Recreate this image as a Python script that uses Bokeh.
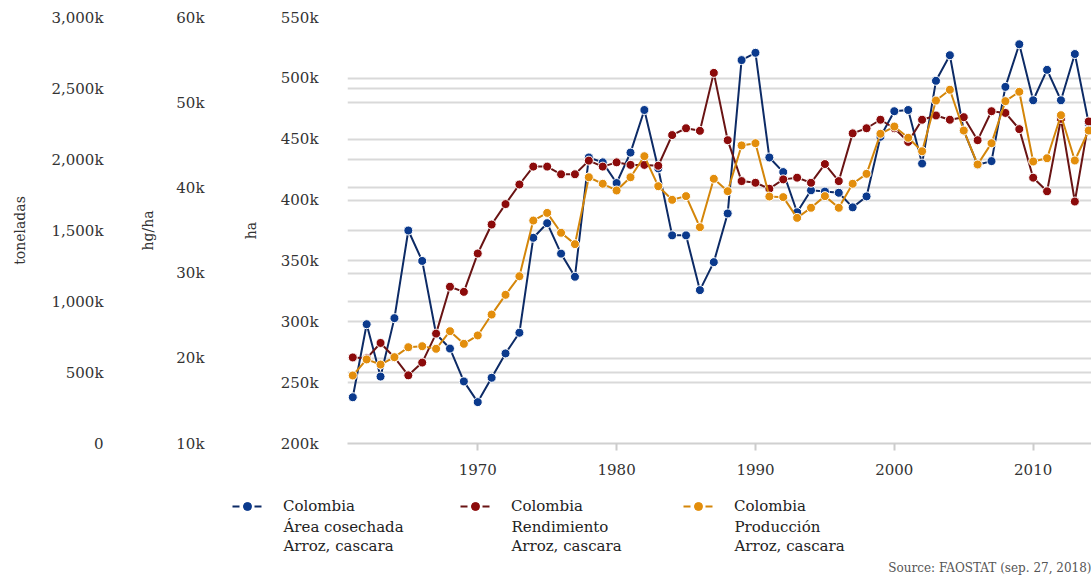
import numpy as np
from bokeh.plotting import figure
from bokeh.layouts import column
from bokeh.models import (Range1d, LinearAxis, FixedTicker, CustomJSTickFormatter, Grid,
                          Legend, LegendItem, Label)
from bokeh.embed import file_html
from bokeh.resources import INLINE

# ---------------- data ----------------
years = list(range(1961, 2015))

# Área cosechada (ha), thousands
area_k = [238, 298, 255, 303, 375, 350, 290, 278, 251, 234,
          254, 274, 291, 369, 381, 356, 337, 435, 431, 414,
          439, 474, 426, 371, 371, 326, 349, 389, 515, 521,
          435, 423, 390, 408, 407, 406, 394, 403, 452, 473,
          474, 430, 498, 519, 457, 429, 432, 493, 528, 482,
          507, 482, 520, 463]

# Rendimiento (hg/ha), thousands
yield_k = [20.1, 20.0, 21.8, 20.1, 18.0, 19.5, 22.9, 28.4, 27.8, 32.3,
           35.7, 38.1, 40.4, 42.5, 42.5, 41.6, 41.6, 43.2, 42.5, 43.0,
           42.7, 42.7, 42.6, 46.2, 47.0, 46.7, 53.5, 45.6, 40.8, 40.6,
           39.9, 41.0, 41.2, 40.6, 42.8, 40.8, 46.4, 47.0, 48.0, 47.0,
           45.4, 48.0, 48.5, 48.0, 48.3, 45.6, 49.0, 48.8, 46.9, 41.2,
           39.6, 48.1, 38.4, 47.8]

# Producción (toneladas), thousands
prod_k = [479, 592, 556, 608, 678, 685, 667, 791, 702, 761,
          908, 1047, 1178, 1570, 1624, 1484, 1404, 1875, 1829, 1782,
          1875, 2023, 1812, 1716, 1742, 1523, 1864, 1777, 2099, 2115,
          1739, 1735, 1589, 1660, 1742, 1660, 1829, 1899, 2181, 2232,
          2153, 2058, 2415, 2491, 2204, 1965, 2115, 2411, 2477, 1986,
          2009, 2312, 1993, 2204]

area = np.array(area_k) * 1000
yld = np.array(yield_k) * 1000
prod = np.array(prod_k) * 1000

x_ticks = [1970, 1980, 1990, 2000, 2010]
ha_ticks = list(range(200000, 550001, 50000))
hg_ticks = list(range(10000, 60001, 10000))
ton_ticks = list(range(0, 3000001, 500000))

country = "Colombia"
elements = ["Área cosechada", "Rendimiento", "Producción"]
item_name = "Arroz, cascara"
source_text = "Source: FAOSTAT (sep. 27, 2018)"

# ---------------- style ----------------
FONT = "DejaVu Serif"
TXT = "#333333"
LEG_TXT = "#222222"
GRID = "#d9d9d9"
c_blue_pt, c_blue_ln = "#0b3a8d", "#0d2b66"
c_red_pt, c_red_ln = "#8c0b0b", "#6a1414"
c_or_pt, c_or_ln = "#e38e0c", "#d4860a"

W = 1091
H_TOP = 482
H_BOT = 94

fmt = CustomJSTickFormatter(code="""
    if (tick == 0) { return '0'; }
    return (tick/1000).toLocaleString('en-US') + 'k';
""")

p = figure(width=W, height=H_TOP, output_backend="svg", toolbar_location=None,
           x_range=Range1d(1960.62, 2014.2), y_range=Range1d(200000, 550000),
           min_border_left=347, min_border_right=0, min_border_top=17,
           min_border_bottom=39)
p.outline_line_color = None
p.frame_align = False
p.extra_y_ranges = {"yield": Range1d(10000, 60000), "prod": Range1d(0, 3000000)}

def style_y(ax, ticks, title, lab_standoff, title_standoff):
    ax.ticker = FixedTicker(ticks=ticks)
    ax.formatter = fmt
    ax.axis_line_color = None
    ax.major_tick_line_color = None
    ax.minor_tick_line_color = None
    ax.major_tick_out = 0
    ax.major_tick_in = 0
    ax.major_label_standoff = lab_standoff
    ax.major_label_text_font = FONT
    ax.major_label_text_font_size = "15px"
    ax.major_label_text_color = TXT
    ax.axis_label = title
    ax.axis_label_text_font = FONT
    ax.axis_label_text_font_size = "14px"
    ax.axis_label_text_font_style = "normal"
    ax.axis_label_text_color = TXT
    ax.axis_label_standoff = title_standoff

# innermost: ha
ax_ha = p.yaxis[0]
style_y(ax_ha, ha_ticks, "ha", 29, 19)

ax_hg = LinearAxis(y_range_name="yield")
style_y(ax_hg, hg_ticks, "hg/ha", 35, 17)
p.add_layout(ax_hg, "left")

ax_ton = LinearAxis(y_range_name="prod")
style_y(ax_ton, ton_ticks, "toneladas", 34, 20)
p.add_layout(ax_ton, "left")

# grids
p.xgrid.visible = False
p.ygrid.ticker = FixedTicker(ticks=ha_ticks)
p.ygrid.grid_line_color = GRID
p.ygrid.grid_line_width = 2
g2 = Grid(dimension=1, axis=ax_hg, y_range_name="yield", grid_line_color=GRID, grid_line_width=2)
g3 = Grid(dimension=1, axis=ax_ton, y_range_name="prod", grid_line_color=GRID, grid_line_width=2)
p.add_layout(g2)
p.add_layout(g3)

# x axis
xa = p.xaxis[0]
xa.ticker = FixedTicker(ticks=x_ticks)
xa.minor_tick_line_color = None
xa.major_tick_out = 7
xa.major_tick_in = 0
xa.major_tick_line_color = "#cccccc"
xa.major_tick_line_width = 2
xa.axis_line_color = "#d0d0d0"
xa.axis_line_width = 2
xa.major_label_standoff = 13
xa.major_label_text_font = FONT
xa.major_label_text_font_size = "15px"
xa.major_label_text_color = TXT

# series: blue, red, orange (orange on top)
p.line(years, area, line_color=c_blue_ln, line_width=2)
p.scatter(years, area, size=9, fill_color=c_blue_pt, line_color="white", line_width=1)

p.line(years, yld, line_color=c_red_ln, line_width=2, y_range_name="yield")
p.scatter(years, yld, size=9, fill_color=c_red_pt, line_color="white", line_width=1,
          y_range_name="yield")

p.line(years, prod, line_color=c_or_ln, line_width=2, y_range_name="prod")
p.scatter(years, prod, size=9, fill_color=c_or_pt, line_color="white", line_width=1,
          y_range_name="prod")

# ---------------- legend strip (second figure) ----------------
q = figure(width=W, height=H_BOT, output_backend="svg", toolbar_location=None,
           x_range=Range1d(0, W), y_range=Range1d(0, H_BOT),
           min_border=0, min_border_left=0, min_border_right=0,
           min_border_top=0, min_border_bottom=0)
q.axis.visible = False
q.grid.visible = False
q.outline_line_color = None
q.frame_align = False

GLYPH_W = 30
STANDOFF = 21
# legend swatches: the series re-plotted far outside this strip's ranges (not visible)
for elem, vals, lc, pc, vx in [(elements[0], area, c_blue_ln, c_blue_pt, 232),
                               (elements[1], yld, c_red_ln, c_red_pt, 460),
                               (elements[2], prod, c_or_ln, c_or_pt, 683)]:
    dl = q.line(years, vals, line_color=lc, line_width=2, line_dash="7 4")
    ds = q.scatter(years, vals, size=7, fill_color=pc, line_color=pc)
    lg = Legend(items=[LegendItem(label=country, renderers=[dl, ds])],
                location=(vx, 60), orientation="horizontal",
                padding=0, margin=0, spacing=0, label_standoff=STANDOFF,
                glyph_width=GLYPH_W, glyph_height=20,
                border_line_color=None, background_fill_alpha=0,
                label_text_font=FONT, label_text_font_size="15px",
                label_text_color=LEG_TXT)
    q.add_layout(lg)
    tx = vx + GLYPH_W + STANDOFF
    for txt, ty in [(elem, 50), (item_name, 31)]:
        q.add_layout(Label(x=tx, y=ty, x_units="screen", y_units="screen", text=txt,
                           text_align="left", text_baseline="middle",
                           text_font=FONT, text_font_size="15px", text_color=LEG_TXT))

src = Label(x=W, y=9, x_units="screen", y_units="screen",
            text=source_text, text_align="right", text_baseline="middle",
            text_font=FONT, text_font_size="12px", text_color="#555555")
q.add_layout(src)

open("out.html", "w").write(file_html(column(p, q, spacing=0), INLINE))
